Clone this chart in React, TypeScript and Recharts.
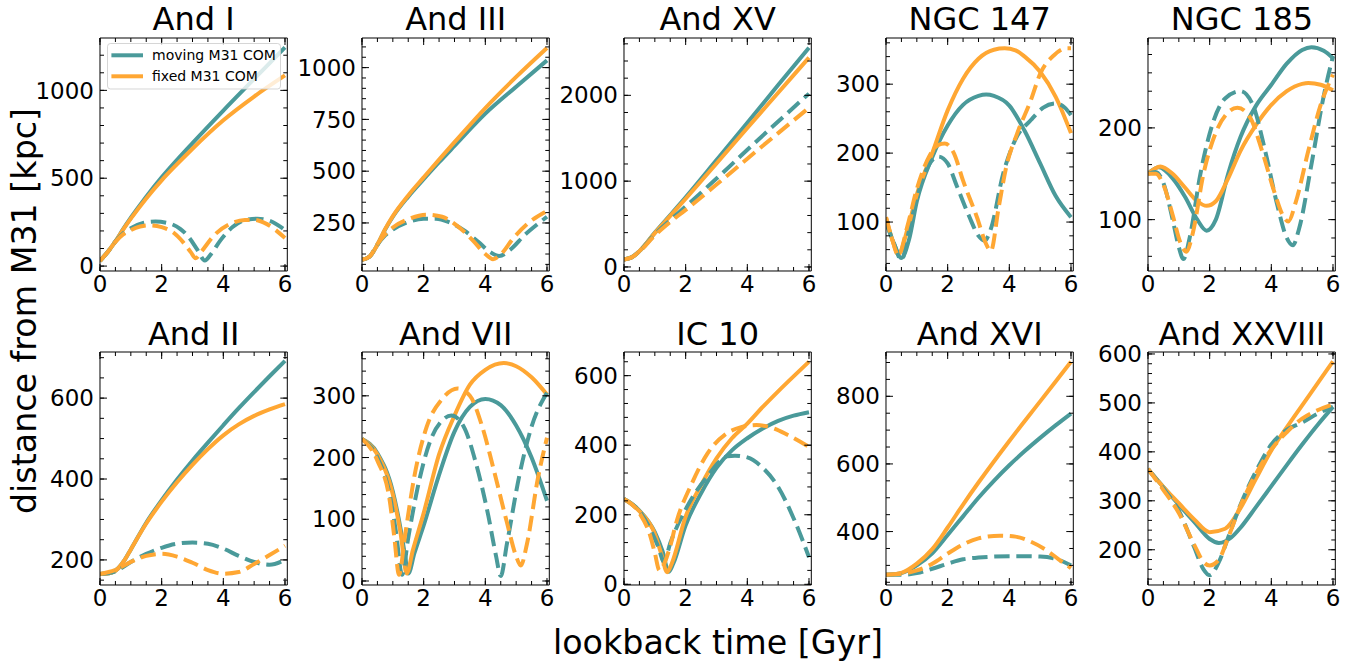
import React from 'react';
import { LineChart, Line, XAxis, YAxis, Legend } from 'recharts';

type Pt = [number, number];

const FONT = "'DejaVu Sans', 'Bitstream Vera Sans', sans-serif";
const TEAL = '#4A9A9A';
const ORANGE = '#FFA733';

// lookback time axis (Gyr)
const LOOKBACK_MAX = 6.075;
const X_TICKS = [0, 2, 4, 6];
const X_MINOR_STEP = 0.5;

// ---------- orbit distances from M31 [kpc] ----------
// "moving" = moving M31 COM, "fixed" = fixed M31 COM, "*Alt" = dashed runs

const andI_moving: Pt[] = [[0, 30], [0.25, 80], [0.5, 140], [0.75, 210], [1, 275], [1.5, 395], [2, 505], [2.5, 605], [3, 700], [4, 885], [5, 1065], [6, 1245]];
const andI_fixed: Pt[] = [[0, 30], [0.25, 80], [0.5, 140], [0.75, 208], [1, 270], [1.5, 385], [2, 488], [2.5, 580], [3, 668], [4, 830], [5, 965], [6, 1085]];
const andI_movingAlt: Pt[] = [[0, 30], [0.25, 80], [0.5, 140], [0.75, 185], [1, 215], [1.4, 245], [1.8, 253], [2.2, 245], [2.6, 212], [2.9, 160], [3.15, 95], [3.4, 32], [3.6, 68], [3.9, 145], [4.3, 222], [4.7, 262], [5.1, 270], [5.5, 258], [6, 205]];
const andI_fixedAlt: Pt[] = [[0, 30], [0.25, 80], [0.5, 138], [0.75, 180], [1, 205], [1.3, 225], [1.6, 232], [2, 222], [2.4, 188], [2.7, 135], [2.95, 78], [3.1, 45], [3.3, 85], [3.7, 175], [4.2, 238], [4.7, 262], [5, 263], [5.4, 240], [6, 160]];

const andIII_moving: Pt[] = [[0, 72], [0.25, 88], [0.5, 145], [0.75, 218], [1, 280], [1.5, 377], [2, 461], [2.5, 543], [3, 622], [4, 778], [5, 908], [6, 1035]];
const andIII_fixed: Pt[] = [[0, 72], [0.25, 88], [0.5, 145], [0.75, 220], [1, 283], [1.5, 383], [2, 470], [2.5, 556], [3, 640], [4, 805], [5, 955], [6, 1095]];
const andIII_movingAlt: Pt[] = [[0, 72], [0.25, 88], [0.5, 145], [0.75, 190], [1, 218], [1.5, 255], [2, 270], [2.4, 270], [2.8, 255], [3.3, 215], [3.8, 155], [4.15, 110], [4.45, 90], [4.8, 120], [5.3, 195], [5.7, 245], [6, 280]];
const andIII_fixedAlt: Pt[] = [[0, 72], [0.25, 88], [0.5, 148], [0.75, 195], [1, 228], [1.5, 268], [2.1, 290], [2.6, 280], [3.1, 235], [3.6, 165], [4, 100], [4.25, 75], [4.5, 98], [4.9, 175], [5.4, 250], [6, 308]];

const andXV_moving: Pt[] = [[0, 88], [0.25, 112], [0.5, 185], [1, 400], [1.5, 605], [2, 812], [3, 1245], [4, 1680], [5, 2120], [6, 2555]];
const andXV_fixed: Pt[] = [[0, 88], [0.25, 112], [0.5, 185], [1, 395], [1.5, 595], [2, 795], [3, 1205], [4, 1620], [5, 2030], [6, 2440]];
const andXV_movingAlt: Pt[] = [[0, 88], [0.25, 112], [0.5, 182], [1, 378], [1.5, 545], [2, 705], [3, 1030], [4, 1365], [5, 1695], [6, 2020]];
const andXV_fixedAlt: Pt[] = [[0, 88], [0.25, 112], [0.5, 180], [1, 368], [1.5, 525], [2, 665], [3, 960], [4, 1262], [5, 1560], [6, 1855]];

const ngc147_moving: Pt[] = [[0, 100], [0.25, 70], [0.5, 48], [0.75, 75], [1, 130], [1.5, 194], [2, 240], [2.5, 270], [3, 283], [3.25, 285], [3.5, 283], [4, 269], [4.5, 232], [5, 185], [5.5, 138], [6, 107]];
const ngc147_fixed: Pt[] = [[0, 107], [0.2, 75], [0.4, 53], [0.7, 90], [1, 140], [1.5, 200], [2, 262], [2.5, 308], [3, 337], [3.5, 350], [3.85, 352], [4.2, 349], [4.5, 340], [5, 318], [5.5, 282], [6, 229]];
const ngc147_movingAlt: Pt[] = [[0, 100], [0.25, 70], [0.5, 45], [0.75, 88], [1, 135], [1.3, 175], [1.7, 195], [2, 185], [2.3, 152], [2.7, 108], [3, 80], [3.2, 73], [3.4, 90], [3.8, 170], [4.2, 220], [4.7, 248], [5.1, 266], [5.5, 272], [5.8, 266], [6, 255]];
const ngc147_fixedAlt: Pt[] = [[0, 107], [0.2, 75], [0.4, 52], [0.7, 95], [1, 148], [1.4, 195], [1.7, 212], [1.9, 214], [2.2, 200], [2.5, 160], [2.95, 107], [3.25, 68], [3.4, 58], [3.65, 120], [3.9, 180], [4.25, 228], [4.7, 277], [5, 315], [5.45, 342], [5.85, 352], [6, 352]];

const ngc185_moving: Pt[] = [[0, 150], [0.35, 157], [0.8, 145], [1.2, 125], [1.6, 100], [1.9, 88], [2.2, 100], [2.6, 150], [3, 190], [3.5, 224], [4, 247], [4.5, 270], [5, 285], [5.3, 288], [5.7, 284], [6, 276]];
const ngc185_fixed: Pt[] = [[0, 150], [0.4, 158], [0.8, 150], [1.2, 135], [1.6, 120], [1.9, 115], [2.2, 120], [2.6, 145], [3, 175], [3.5, 203], [4, 225], [4.5, 240], [5, 248], [5.2, 249], [5.6, 247], [6, 241]];
const ngc185_movingAlt: Pt[] = [[0, 150], [0.25, 152], [0.5, 140], [0.8, 100], [1, 70], [1.15, 57], [1.35, 80], [1.7, 150], [2.1, 205], [2.5, 232], [3, 240], [3.4, 225], [3.8, 175], [4.2, 115], [4.5, 80], [4.7, 72], [4.9, 90], [5.3, 160], [5.7, 235], [6, 278]];
const ngc185_fixedAlt: Pt[] = [[0, 150], [0.25, 150], [0.5, 138], [0.8, 105], [1.05, 75], [1.25, 65], [1.45, 85], [1.8, 150], [2.2, 195], [2.6, 217], [2.9, 222], [3.3, 212], [3.7, 175], [4.1, 130], [4.4, 103], [4.55, 98], [4.8, 120], [5.2, 175], [5.6, 225], [6, 258]];

const andII_moving: Pt[] = [[0, 165], [0.3, 167], [0.6, 180], [0.8, 200], [1, 226], [1.5, 292], [2, 348], [2.5, 399], [3, 446], [3.5, 490], [4, 533], [4.5, 575], [5, 615], [5.5, 654], [6, 692]];
const andII_fixed: Pt[] = [[0, 165], [0.3, 167], [0.6, 180], [0.8, 200], [1, 226], [1.5, 290], [2, 344], [2.5, 392], [3, 435], [3.5, 474], [4, 508], [4.5, 535], [5, 556], [5.5, 572], [6, 585]];
const andII_movingAlt: Pt[] = [[0, 165], [0.5, 172], [1, 195], [1.5, 215], [2, 230], [2.5, 240], [3, 243], [3.5, 240], [4, 228], [4.5, 210], [5, 195], [5.5, 188], [6, 200]];
const andII_fixedAlt: Pt[] = [[0, 165], [0.5, 175], [1, 195], [1.5, 210], [2, 215], [2.5, 208], [3, 193], [3.5, 175], [4, 166], [4.5, 170], [5, 190], [5.5, 212], [6, 235]];

const andVII_moving: Pt[] = [[0, 230], [0.5, 207], [1, 145], [1.25, 85], [1.4, 40], [1.5, 12], [1.7, 45], [2, 90], [2.5, 172], [3, 242], [3.5, 282], [4, 295], [4.5, 285], [5, 252], [5.5, 200], [6, 130]];
const andVII_fixed: Pt[] = [[0, 230], [0.5, 205], [1, 140], [1.25, 78], [1.45, 12], [1.65, 50], [2, 110], [2.5, 205], [3, 268], [3.5, 318], [4, 342], [4.6, 353], [5, 348], [5.5, 330], [6, 302]];
const andVII_movingAlt: Pt[] = [[0, 230], [0.5, 200], [0.9, 140], [1.1, 80], [1.3, 10], [1.5, 70], [1.8, 150], [2.2, 225], [2.6, 260], [2.9, 268], [3.3, 250], [3.7, 190], [4.1, 105], [4.35, 40], [4.5, 8], [4.7, 60], [5.1, 170], [5.5, 250], [6, 305]];
const andVII_fixedAlt: Pt[] = [[0, 230], [0.5, 195], [0.9, 130], [1.05, 70], [1.2, 10], [1.4, 75], [1.7, 170], [2.1, 250], [2.6, 295], [3.1, 312], [3.5, 300], [3.9, 250], [4.3, 175], [4.7, 95], [5, 40], [5.15, 25], [5.35, 60], [5.7, 165], [6, 232]];

const ic10_moving: Pt[] = [[0, 245], [0.5, 212], [1, 150], [1.25, 95], [1.45, 36], [1.6, 60], [2, 170], [2.5, 262], [3, 335], [3.5, 385], [4, 420], [4.5, 448], [5, 470], [5.5, 485], [6, 495]];
const ic10_fixed: Pt[] = [[0, 245], [0.5, 210], [1, 145], [1.2, 90], [1.4, 35], [1.55, 60], [2, 195], [2.5, 285], [3, 362], [3.5, 420], [4, 462], [4.5, 510], [5, 555], [5.5, 598], [6, 640]];
const ic10_movingAlt: Pt[] = [[0, 245], [0.5, 210], [0.9, 150], [1.1, 110], [1.3, 65], [1.5, 118], [2.05, 224], [2.7, 310], [3.35, 368], [3.6, 370], [4, 365], [4.5, 335], [5, 280], [5.5, 190], [6, 78]];
const ic10_fixedAlt: Pt[] = [[0, 245], [0.5, 205], [0.85, 140], [1, 90], [1.15, 40], [1.45, 95], [1.72, 185], [2.2, 290], [2.7, 375], [3.3, 432], [3.8, 452], [4.3, 458], [4.8, 450], [5.3, 430], [6, 395]];

const andXVI_moving: Pt[] = [[0, 272], [0.5, 277], [1, 300], [1.5, 336], [2, 390], [2.5, 445], [3, 500], [3.5, 550], [4, 596], [4.5, 638], [5, 677], [5.5, 714], [6, 749]];
const andXVI_fixed: Pt[] = [[0, 272], [0.5, 278], [1, 305], [1.5, 348], [2, 412], [2.5, 480], [3, 545], [4, 668], [5, 785], [6, 902]];
const andXVI_movingAlt: Pt[] = [[0, 272], [0.5, 272], [1, 277], [1.5, 290], [2, 305], [2.5, 318], [3, 323], [3.5, 326], [4, 327], [4.5, 327], [5, 326], [5.4, 322], [5.7, 313], [6, 300]];
const andXVI_fixedAlt: Pt[] = [[0, 272], [0.5, 275], [1, 285], [1.5, 305], [2, 335], [2.5, 362], [3, 380], [3.7, 388], [4.2, 385], [4.7, 370], [5.2, 345], [5.6, 318], [6, 292]];

const andXXVIII_moving: Pt[] = [[0, 365], [0.5, 328], [1, 292], [1.5, 257], [2, 222], [2.3, 214], [2.7, 225], [3, 245], [3.5, 287], [4, 330], [4.5, 373], [5, 415], [5.5, 455], [6, 492]];
const andXXVIII_fixed: Pt[] = [[0, 365], [0.5, 328], [1, 295], [1.5, 262], [2, 236], [2.5, 243], [3, 285], [3.5, 345], [4, 403], [4.5, 450], [5, 495], [5.5, 540], [6, 585]];
const andXXVIII_movingAlt: Pt[] = [[0, 365], [0.5, 325], [1, 280], [1.5, 205], [1.8, 160], [2, 148], [2.3, 175], [2.6, 225], [3, 292], [3.5, 360], [4, 415], [4.5, 445], [5, 460], [5.5, 478], [6, 492]];
const andXXVIII_fixedAlt: Pt[] = [[0, 365], [0.5, 322], [1, 275], [1.5, 210], [1.8, 175], [2, 168], [2.3, 180], [2.6, 225], [3, 290], [3.5, 355], [4, 405], [4.5, 440], [5, 468], [5.5, 485], [6, 497]];

// ---------- panel layout (titles, y ranges, y ticks) ----------
const TITLES = ['And I', 'And III', 'And XV', 'NGC 147', 'NGC 185', 'And II', 'And VII', 'IC 10', 'And XVI', 'And XXVIII'];
const Y_DOMAINS: [number, number][] = [[-28, 1298], [18, 1143], [-47, 2668], [29, 367], [44, 298], [138, 714], [-6.5, 371], [-2, 668], [242, 931], [128, 604]];
const Y_TICKS = [[0, 500, 1000], [250, 500, 750, 1000], [0, 1000, 2000], [100, 200, 300], [100, 200], [200, 400, 600], [0, 100, 200, 300], [0, 200, 400, 600], [400, 600, 800], [200, 300, 400, 500, 600]];
const Y_MINOR_STEPS = [100, 50, 200, 20, 20, 50, 20, 40, 50, 20];
const SERIES: Pt[][][] = [
  [andI_moving, andI_fixed, andI_movingAlt, andI_fixedAlt],
  [andIII_moving, andIII_fixed, andIII_movingAlt, andIII_fixedAlt],
  [andXV_moving, andXV_fixed, andXV_movingAlt, andXV_fixedAlt],
  [ngc147_moving, ngc147_fixed, ngc147_movingAlt, ngc147_fixedAlt],
  [ngc185_moving, ngc185_fixed, ngc185_movingAlt, ngc185_fixedAlt],
  [andII_moving, andII_fixed, andII_movingAlt, andII_fixedAlt],
  [andVII_moving, andVII_fixed, andVII_movingAlt, andVII_fixedAlt],
  [ic10_moving, ic10_fixed, ic10_movingAlt, ic10_fixedAlt],
  [andXVI_moving, andXVI_fixed, andXVI_movingAlt, andXVI_fixedAlt],
  [andXXVIII_moving, andXXVIII_fixed, andXXVIII_movingAlt, andXXVIII_fixedAlt],
];
const LEGEND_ITEMS = [
  { label: 'moving M31 COM', color: TEAL },
  { label: 'fixed M31 COM', color: ORANGE },
];

// ---------- geometry ----------
const COL_LEFT = [100, 362, 624, 886, 1148.3];
const ROW_TOP = [37.7, 352.3];
const PLOT_W = 187.3;
const PLOT_H = 233;
const LM = 70; // room for y tick labels
const TM = 14;
const RM = 10;
const BM = 36; // room for x tick labels
const TITLE_SIZE = 32;
const TITLE_GAP = 7.7; // baseline above the frame
const LABEL_SIZE = 33.3;
const THIN = 0.01; // tick-mark axes take no room

const LW = 4;
const DASH = '15.4 6.7';
const TICK_FONT = { fill: '#000', fontSize: 23, fontFamily: FONT };
const AXIS_LINE = { stroke: '#000', strokeWidth: 1 };

const stepTicks = (lo: number, hi: number, step: number): number[] => {
  const out: number[] = [];
  for (let v = Math.ceil(lo / step) * step; v <= hi + 1e-9; v += step) out.push(+v.toFixed(6));
  return out;
};

const NoLabel = () => <g />;

function LegendBox() {
  return (
    <svg width={175} height={47} style={{ display: 'block' }}>
      <rect x={0.5} y={0.5} width={173} height={45.5} rx={3} ry={3} fill="#fff" fillOpacity={0.8} stroke="#cccccc" strokeOpacity={0.8} />
      {LEGEND_ITEMS.map((it, i) => (
        <g key={it.label}>
          <line x1={4.4} x2={36} y1={12.3 + i * 21} y2={12.3 + i * 21} stroke={it.color} strokeWidth={LW} />
          <text x={45} y={17 + i * 21.3} fontSize={14} fontFamily={FONT} fill="#000">{it.label}</text>
        </g>
      ))}
    </svg>
  );
}

function OrbitPanel({ index }: { index: number }) {
  const row = Math.floor(index / 5);
  const col = index % 5;
  const left = COL_LEFT[col];
  const top = ROW_TOP[row];
  const yDomain = Y_DOMAINS[index];
  const xDomain: [number, number] = [0, LOOKBACK_MAX];
  const xMinor = stepTicks(0, LOOKBACK_MAX, X_MINOR_STEP);
  const yMinor = stepTicks(yDomain[0], yDomain[1], Y_MINOR_STEPS[index]);
  const [moving, fixed, movingAlt, fixedAlt] = SERIES[index];
  const rows = (pts: Pt[]) => pts.map(([t, r]) => ({ t, r }));

  const xMarks = (['bottom', 'top'] as const).flatMap((o) =>
    [
      { id: `x-${o}-maj`, ticks: X_TICKS, size: 7, line: o === 'top' },
      { id: `x-${o}-min`, ticks: xMinor, size: 4, line: false },
    ].map((a) => (
      <XAxis key={a.id} xAxisId={a.id} orientation={o} mirror type="number" dataKey="t" domain={xDomain}
        allowDataOverflow ticks={a.ticks} interval={0} height={THIN} tick={NoLabel}
        tickSize={a.size} tickLine={{ stroke: '#000', strokeWidth: 1 }} axisLine={a.line ? AXIS_LINE : false} />
    )),
  );
  const yMarks = (['left', 'right'] as const).flatMap((o) =>
    [
      { id: `y-${o}-maj`, ticks: Y_TICKS[index], size: 7, line: o === 'right' },
      { id: `y-${o}-min`, ticks: yMinor, size: 4, line: false },
    ].map((a) => (
      <YAxis key={a.id} yAxisId={a.id} orientation={o} mirror type="number" domain={yDomain}
        allowDataOverflow ticks={a.ticks} interval={0} width={THIN} tick={NoLabel}
        tickSize={a.size} tickLine={{ stroke: '#000', strokeWidth: 1 }} axisLine={a.line ? AXIS_LINE : false} />
    )),
  );

  return (
    <>
      <div style={{
        position: 'absolute', left, width: PLOT_W, top: top - TITLE_GAP - 0.846 * TITLE_SIZE,
        fontSize: TITLE_SIZE, lineHeight: `${TITLE_SIZE}px`, fontFamily: FONT, textAlign: 'center', whiteSpace: 'nowrap', color: '#000',
      }}>
        {TITLES[index]}
      </div>
      <div style={{ position: 'absolute', left: left - LM, top: top - TM }}>
        <LineChart width={PLOT_W + LM + RM} height={PLOT_H + TM + BM} margin={{ top: TM, right: RM, bottom: 0, left: 0 }}>
          <XAxis dataKey="t" type="number" domain={xDomain} allowDataOverflow ticks={X_TICKS} interval={0}
            height={BM} tickLine={false} axisLine={AXIS_LINE} tick={TICK_FONT} tickSize={4} tickMargin={1} />
          <YAxis type="number" domain={yDomain} allowDataOverflow ticks={Y_TICKS[index]} interval={0}
            width={LM} tickLine={false} axisLine={AXIS_LINE} tick={TICK_FONT} tickSize={4} tickMargin={2} />
          {xMarks}
          {yMarks}
          <Line data={rows(moving)} dataKey="r" type="monotone" stroke={TEAL} strokeWidth={LW} dot={false} activeDot={false} isAnimationActive={false} />
          <Line data={rows(fixed)} dataKey="r" type="monotone" stroke={ORANGE} strokeWidth={LW} dot={false} activeDot={false} isAnimationActive={false} />
          <Line data={rows(movingAlt)} dataKey="r" type="monotone" stroke={TEAL} strokeWidth={LW} strokeDasharray={DASH} dot={false} activeDot={false} isAnimationActive={false} />
          <Line data={rows(fixedAlt)} dataKey="r" type="monotone" stroke={ORANGE} strokeWidth={LW} strokeDasharray={DASH} dot={false} activeDot={false} isAnimationActive={false} />
          {index === 0 && (
            <Legend layout="vertical" align="center" verticalAlign="middle"
              wrapperStyle={{ left: LM + 7.3, top: TM + 5.3, width: 175, height: 47 }}
              content={() => <LegendBox />} />
          )}
        </LineChart>
      </div>
    </>
  );
}

export default function App() {
  return (
    <div style={{ position: 'absolute', left: 0, top: 0, width: 1363, height: 662, background: '#fff', overflow: 'hidden' }}>
      <svg width={1363} height={662} style={{ position: 'absolute', left: 0, top: 0 }}>
        <text x={718} y={654} textAnchor="middle" fontSize={LABEL_SIZE} fontFamily={FONT} fill="#000">lookback time [Gyr]</text>
        <text transform="translate(35.7,311) rotate(-90)" textAnchor="middle" fontSize={LABEL_SIZE} fontFamily={FONT} fill="#000">distance from M31 [kpc]</text>
      </svg>
      {TITLES.map((t, i) => (
        <OrbitPanel key={t} index={i} />
      ))}
    </div>
  );
}
